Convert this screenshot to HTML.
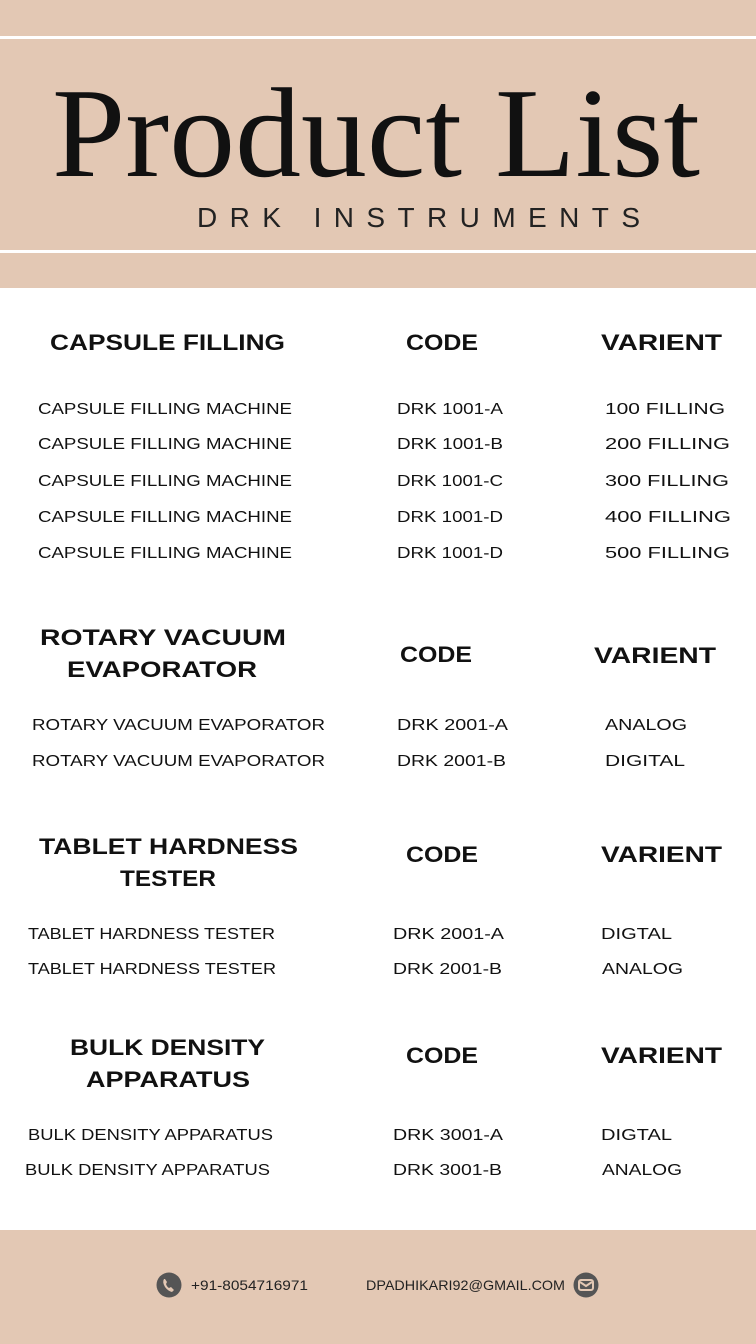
<!DOCTYPE html>
<html><head><meta charset="utf-8"><style>
html,body{margin:0;padding:0;background:#fff;}
svg{display:block}
</style></head><body>
<svg width="756" height="1344" viewBox="0 0 756 1344" xmlns="http://www.w3.org/2000/svg">
<rect x="0" y="0" width="756" height="288" fill="#e3c8b4"/>
<rect x="0" y="36" width="756" height="3" fill="#fff"/>
<rect x="0" y="250" width="756" height="3" fill="#fff"/>
<rect x="0" y="1230" width="756" height="114" fill="#e3c8b4"/>
<g fill="#111" font-family="Liberation Serif, serif">
<text x="52" y="176" font-size="128" textLength="648" lengthAdjust="spacingAndGlyphs">Product List</text>
</g>
<g fill="#222" font-family="Liberation Sans, sans-serif">
<text x="197" y="227" font-size="28" textLength="443" lengthAdjust="spacing">DRK INSTRUMENTS</text>
</g>
<g fill="#111" font-family="Liberation Sans, sans-serif" font-weight="bold" font-size="22">
<text x="50" y="350" textLength="235" lengthAdjust="spacingAndGlyphs">CAPSULE FILLING</text>
<text x="406" y="350" textLength="72" lengthAdjust="spacingAndGlyphs">CODE</text>
<text x="601" y="350" textLength="121" lengthAdjust="spacingAndGlyphs">VARIENT</text>
<text x="40" y="645" textLength="246" lengthAdjust="spacingAndGlyphs">ROTARY VACUUM</text>
<text x="67" y="677" textLength="190" lengthAdjust="spacingAndGlyphs">EVAPORATOR</text>
<text x="400" y="662" textLength="72" lengthAdjust="spacingAndGlyphs">CODE</text>
<text x="594" y="663" textLength="122" lengthAdjust="spacingAndGlyphs">VARIENT</text>
<text x="39" y="854" textLength="259" lengthAdjust="spacingAndGlyphs">TABLET HARDNESS</text>
<text x="120" y="886" textLength="96" lengthAdjust="spacingAndGlyphs">TESTER</text>
<text x="406" y="862" textLength="72" lengthAdjust="spacingAndGlyphs">CODE</text>
<text x="601" y="862" textLength="121" lengthAdjust="spacingAndGlyphs">VARIENT</text>
<text x="70" y="1055" textLength="195" lengthAdjust="spacingAndGlyphs">BULK DENSITY</text>
<text x="86" y="1087" textLength="164" lengthAdjust="spacingAndGlyphs">APPARATUS</text>
<text x="406" y="1063" textLength="72" lengthAdjust="spacingAndGlyphs">CODE</text>
<text x="601" y="1063" textLength="121" lengthAdjust="spacingAndGlyphs">VARIENT</text>
</g>
<g fill="#111" font-family="Liberation Sans, sans-serif" font-size="16">
<text x="38" y="414" textLength="254" lengthAdjust="spacingAndGlyphs">CAPSULE FILLING MACHINE</text>
<text x="38" y="449" textLength="254" lengthAdjust="spacingAndGlyphs">CAPSULE FILLING MACHINE</text>
<text x="38" y="486" textLength="254" lengthAdjust="spacingAndGlyphs">CAPSULE FILLING MACHINE</text>
<text x="38" y="522" textLength="254" lengthAdjust="spacingAndGlyphs">CAPSULE FILLING MACHINE</text>
<text x="38" y="558" textLength="254" lengthAdjust="spacingAndGlyphs">CAPSULE FILLING MACHINE</text>
<text x="397" y="414" textLength="106" lengthAdjust="spacingAndGlyphs">DRK 1001-A</text>
<text x="397" y="449" textLength="106" lengthAdjust="spacingAndGlyphs">DRK 1001-B</text>
<text x="397" y="486" textLength="106" lengthAdjust="spacingAndGlyphs">DRK 1001-C</text>
<text x="397" y="522" textLength="106" lengthAdjust="spacingAndGlyphs">DRK 1001-D</text>
<text x="397" y="558" textLength="106" lengthAdjust="spacingAndGlyphs">DRK 1001-D</text>
<text x="605" y="414" textLength="120" lengthAdjust="spacingAndGlyphs">100  FILLING</text>
<text x="605" y="449" textLength="125" lengthAdjust="spacingAndGlyphs">200  FILLING</text>
<text x="605" y="486" textLength="124" lengthAdjust="spacingAndGlyphs">300  FILLING</text>
<text x="605" y="522" textLength="126" lengthAdjust="spacingAndGlyphs">400  FILLING</text>
<text x="605" y="558" textLength="125" lengthAdjust="spacingAndGlyphs">500  FILLING</text>

<text x="32" y="730" textLength="293" lengthAdjust="spacingAndGlyphs">ROTARY VACUUM EVAPORATOR</text>
<text x="32" y="766" textLength="293" lengthAdjust="spacingAndGlyphs">ROTARY VACUUM EVAPORATOR</text>
<text x="397" y="730" textLength="111" lengthAdjust="spacingAndGlyphs">DRK 2001-A</text>
<text x="397" y="766" textLength="109" lengthAdjust="spacingAndGlyphs">DRK 2001-B</text>
<text x="605" y="730" textLength="82" lengthAdjust="spacingAndGlyphs">ANALOG</text>
<text x="605" y="766" textLength="80" lengthAdjust="spacingAndGlyphs">DIGITAL</text>

<text x="28" y="939" textLength="247" lengthAdjust="spacingAndGlyphs">TABLET HARDNESS  TESTER</text>
<text x="28" y="974" textLength="248" lengthAdjust="spacingAndGlyphs">TABLET HARDNESS  TESTER</text>
<text x="393" y="939" textLength="111" lengthAdjust="spacingAndGlyphs">DRK 2001-A</text>
<text x="393" y="974" textLength="109" lengthAdjust="spacingAndGlyphs">DRK 2001-B</text>
<text x="601" y="939" textLength="71" lengthAdjust="spacingAndGlyphs">DIGTAL</text>
<text x="602" y="974" textLength="81" lengthAdjust="spacingAndGlyphs">ANALOG</text>

<text x="28" y="1140" textLength="245" lengthAdjust="spacingAndGlyphs">BULK DENSITY APPARATUS</text>
<text x="25" y="1175" textLength="245" lengthAdjust="spacingAndGlyphs">BULK DENSITY APPARATUS</text>
<text x="393" y="1140" textLength="110" lengthAdjust="spacingAndGlyphs">DRK 3001-A</text>
<text x="393" y="1175" textLength="109" lengthAdjust="spacingAndGlyphs">DRK 3001-B</text>
<text x="601" y="1140" textLength="71" lengthAdjust="spacingAndGlyphs">DIGTAL</text>
<text x="602" y="1175" textLength="80" lengthAdjust="spacingAndGlyphs">ANALOG</text>
</g>
<circle cx="169" cy="1285" r="12.5" fill="#555"/>
<path d="M164 1279 q-2 3 1 8 q3 4 7 5 l2-2 -3-3 -2 1 q-2-1 -3-4 l1-2 -2-3z" fill="#e3c8b4"/>
<circle cx="586" cy="1285" r="12.5" fill="#555"/>
<rect x="579" y="1280" width="14" height="10" rx="2" fill="none" stroke="#e3c8b4" stroke-width="2"/>
<path d="M580 1282 l6 4 6-4" fill="none" stroke="#e3c8b4" stroke-width="2"/>
<g fill="#222" font-family="Liberation Sans, sans-serif" font-size="14">
<text x="191" y="1290" textLength="117" lengthAdjust="spacingAndGlyphs">+91-8054716971</text>
<text x="366" y="1290" textLength="199" lengthAdjust="spacingAndGlyphs">DPADHIKARI92@GMAIL.COM</text>
</g>
</svg>
</body></html>
